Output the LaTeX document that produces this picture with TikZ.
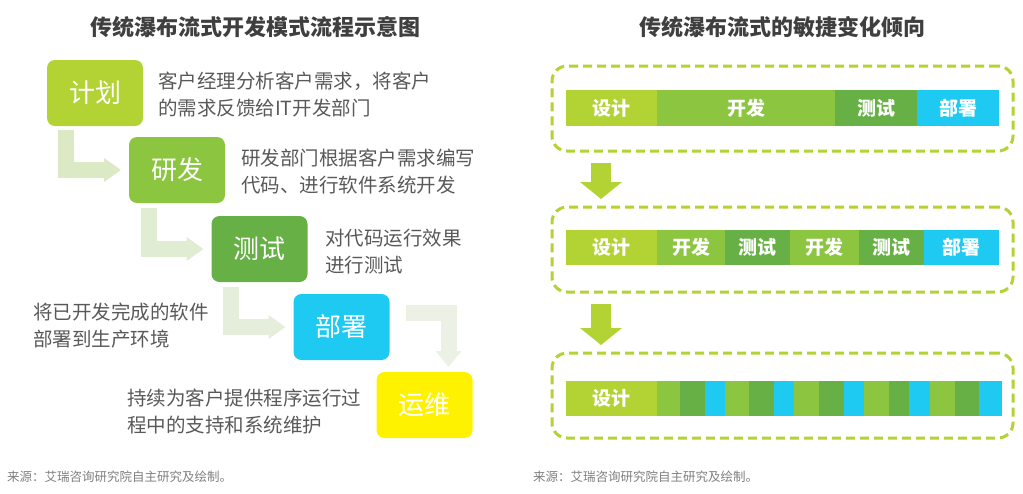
\documentclass[tikz,border=0pt]{standalone}
\usepackage{fontspec}
\setmainfont{Noto Sans CJK SC}
\usetikzlibrary{arrows.meta}
\definecolor{cA}{HTML}{B3D334}
\definecolor{cB}{HTML}{8CC540}
\definecolor{cC}{HTML}{66B046}
\definecolor{cD}{HTML}{1EC9F2}
\definecolor{cE}{HTML}{FFF200}
\definecolor{txt}{HTML}{595959}
\definecolor{ttl}{HTML}{3F3F3F}
\definecolor{ftc}{HTML}{7F7F7F}
\definecolor{arA}{HTML}{DCE9C5}
\definecolor{arB}{HTML}{E1EDD2}
\definecolor{arC}{HTML}{E4EEDB}
\definecolor{arD}{HTML}{EBF1E4}
\begin{document}
\begin{tikzpicture}[x=1pt,y=-1pt,
  phase/.style={rounded corners=8pt, minimum width=96pt, minimum height=66pt, inner sep=0pt, outer sep=0pt, text=white, font=\fontsize{26}{30}\selectfont},
  desc/.style={anchor=west, align=left, inner sep=0pt, text=txt, font=\fontsize{19.5}{27}\selectfont},
  ttlstyle/.style={text=ttl, inner sep=0pt, font=\fontsize{22}{26}\selectfont\bfseries},
  footstyle/.style={anchor=west, inner sep=0pt, text=ftc, font=\fontsize{12.5}{15}\selectfont},
  fat/.style={line width=16pt, -{Triangle[length=17pt,width=23pt]}},
  dbox/.style={draw=cA, line width=3pt, dash pattern=on 9pt off 5pt, rounded corners=15pt, minimum width=461pt, minimum height=85pt, inner sep=0pt, outer sep=0pt},
  seg/.style={minimum height=35pt, inner sep=0pt, outer sep=0pt, anchor=west, text=white, font=\fontsize{19}{22}\selectfont\bfseries},
  dnarrow/.style={draw=cA, line width=20pt, -{Triangle[length=17pt,width=41pt]}}
]
\useasboundingbox (0,0) rectangle (1023,493);

% titles
\node[ttlstyle] (t1) at (255.5,27) {传统瀑布流式开发模式流程示意图};
\node[ttlstyle] (t2) at (782,27) {传统瀑布流式的敏捷变化倾向};

% left: phases
\node[phase, fill=cA] (jh) at (95,93) {计划};
\node[phase, fill=cB] (yf) at (177,170) {研发};
\node[phase, fill=cC] (cs) at (259.5,249) {测试};
\node[phase, fill=cD] (bs) at (341.5,327) {部署};
\node[phase, fill=cE] (yw) at (424.5,405) {运维};

% L-shaped arrows
\draw[fat, draw=arA] ([xshift=19pt,yshift=-4pt]jh.south west) |- ([xshift=-8pt]yf.west);
\draw[fat, draw=arB] ([xshift=20pt,yshift=-5pt]yf.south west) |- ([xshift=-8pt]cs.west);
\draw[fat, draw=arC] ([xshift=19pt,yshift=-5pt]cs.south west) |- ([xshift=-8pt]bs.west);
\draw[line width=16pt, draw=arD, -{Triangle[length=16pt,width=25pt]}] ([xshift=16pt,yshift=14pt]bs.east) -| ([xshift=24pt,yshift=5pt]yw.north);

% descriptions
\node[desc] (d1) at (158,95) {客户经理分析客户需求，将客户\\的需求反馈给IT开发部门};
\node[desc] (d2) at (241,172) {研发部门根据客户需求编写\\代码、进行软件系统开发};
\node[desc] (d3) at (325,251.5) {对代码运行效果\\进行测试};
\node[desc] (d4) at (33,326) {将已开发完成的软件\\部署到生产环境};
\node[desc] (d5) at (127,411.5) {持续为客户提供程序运行过\\程中的支持和系统维护};

% right: dashed boxes
\node[dbox] (r1) at (782.5,108.5) {};
\node[dbox] (r2) at (782.5,249.5) {};
\node[dbox] (r3) at (782.5,395.5) {};

\draw[dnarrow] ([xshift=49pt,yshift=-12pt]r1.south west) -- ([xshift=49pt,yshift=8pt]r2.north west);
\draw[dnarrow] ([xshift=49pt,yshift=-12pt]r2.south west) -- ([xshift=49pt,yshift=8pt]r3.north west);

% bar 1
\foreach \a/\b/\c/\t [count=\i] in {566/657/cA/设计, 657/835/cB/开发, 835/917/cC/测试, 917/999/cD/部署}{
  \pgfmathsetmacro\w{\b-\a+0.4}
  \node[seg, fill=\c, minimum width=\w pt, minimum height=36pt] (a\i) at (\a,108) {\t};
}
% bar 2
\foreach \a/\b/\c/\t [count=\i] in {566/657/cA/设计, 657/725/cB/开发, 725/790/cC/测试, 790/859/cB/开发, 859/924/cC/测试, 924/999/cD/部署}{
  \pgfmathsetmacro\w{\b-\a+0.4}
  \node[seg, fill=\c, minimum width=\w pt] (b\i) at (\a,247.5) {\t};
}
% bar 3
\node[seg, fill=cA, minimum width=91.4pt] (c0) at (566,398.5) {设计};
\foreach \a/\b/\c [count=\i] in {657/680/cB, 680/705/cC, 705/725/cD, 725/749/cB, 749/774/cC, 774/794/cD, 794/819/cB, 819/844/cC, 844/864/cD, 864/889/cB, 889/909/cC, 909/930/cD, 930/955/cB, 955/979/cC, 979/1002/cD}{
  \pgfmathsetmacro\w{\b-\a+0.4}
  \node[seg, fill=\c, minimum width=\w pt] (c\i) at (\a,398.5) {};
}

% footnotes
\node[footstyle] (f1) at (7,477) {来源：艾瑞咨询研究院自主研究及绘制。};
\node[footstyle] (f2) at (533,477) {来源：艾瑞咨询研究院自主研究及绘制。};
\end{tikzpicture}
\end{document}
